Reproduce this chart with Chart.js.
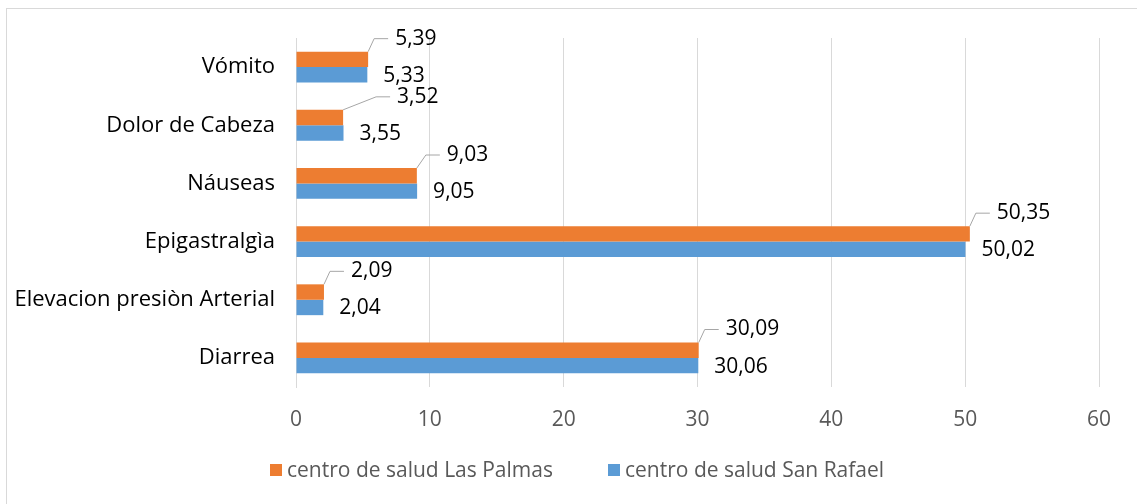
<!DOCTYPE html>
<html>
<head>
<meta charset="utf-8">
<script src="https://cdn.jsdelivr.net/npm/chart.js@4/dist/chart.umd.min.js"></script>
<style>
  html, body { margin: 0; padding: 0; background: #fff; }
  #wrap { position: relative; width: 1137px; height: 504px; }
  #frame { position: absolute; left: 6px; top: 8px; width: 1140px; height: 500px; border: 1px solid #d9d9d9; box-sizing: border-box; }
  canvas { position: absolute; left: 0; top: 0; }
</style>
</head>
<body>
<div id="wrap">
  <div id="frame"></div>
  <canvas id="chart" width="1137" height="504"></canvas>
</div>
<script>
const categories = ['Vómito', 'Dolor de Cabeza', 'Náuseas', 'Epigastralgìa', 'Elevacion presiòn Arterial', 'Diarrea'];
const lasPalmas = [5.39, 3.52, 9.03, 50.35, 2.09, 30.09];
const sanRafael = [5.33, 3.55, 9.05, 50.02, 2.04, 30.06];
const seriesNames = ['centro de salud Las Palmas', 'centro de salud San Rafael'];
const xTicks = [0, 10, 20, 30, 40, 50, 60];

const FONT = "'Open Sans', sans-serif";

function fmt(v) {
    return v.toFixed(2).replace('.', ',');
}

// value labels: orange ones sit above with a leader line, blue ones to the right
const valueLabels = {
    id: 'valueLabels',
    afterDatasetsDraw(chart) {
        const ctx = chart.ctx;
        const extraShift = [0, 27, 3, 0, 0, 0]; // one label was dragged further out
        ctx.save();
        ctx.font = '21px ' + FONT;
        ctx.fillStyle = '#000';
        ctx.textBaseline = 'middle';
        ctx.textAlign = 'left';

        chart.getDatasetMeta(0).data.forEach((bar, i) => {
            const top = bar.y - bar.height / 2;
            const ly = top - 13;
            const lx = bar.x + 27 + extraShift[i];
            ctx.strokeStyle = '#a6a6a6';
            ctx.lineWidth = 1;
            ctx.beginPath();
            ctx.moveTo(bar.x, top);
            ctx.lineTo(lx - 21, ly);
            ctx.lineTo(lx - 7, ly);
            ctx.stroke();
            ctx.fillText(fmt(lasPalmas[i]), lx, ly);
        });

        chart.getDatasetMeta(1).data.forEach((bar, i) => {
            ctx.fillText(fmt(sanRafael[i]), bar.x + 16, bar.y + 1);
        });
        ctx.restore();
    }
};

// legend drawn by hand so spacing can follow the original
const bottomLegend = {
    id: 'bottomLegend',
    afterDraw(chart) {
        const ctx = chart.ctx;
        const starts = [270, 608];
        const y = 470;
        ctx.save();
        ctx.font = '21px ' + FONT;
        ctx.textBaseline = 'middle';
        ctx.textAlign = 'left';
        chart.data.datasets.forEach((ds, i) => {
            ctx.fillStyle = ds.backgroundColor;
            ctx.fillRect(starts[i], y - 6, 12, 12);
            ctx.fillStyle = '#595959';
            ctx.fillText(ds.label, starts[i] + 17, y + 1);
        });
        ctx.restore();
    }
};

new Chart(document.getElementById('chart').getContext('2d'), {
    type: 'bar',
    data: {
        labels: categories,
        datasets: [{
            label: seriesNames[0],
            data: lasPalmas,
            backgroundColor: '#ED7D31'
        }, {
            label: seriesNames[1],
            data: sanRafael,
            backgroundColor: '#5B9BD5'
        }]
    },
    options: {
        indexAxis: 'y',
        responsive: false,
        animation: false,
        categoryPercentage: 0.53,
        barPercentage: 1,
        layout: {
            padding: { top: 38, right: 38, left: 0, bottom: 57 }
        },
        scales: {
            x: {
                min: 0,
                max: 60,
                afterBuildTicks(scale) {
                    scale.ticks = xTicks.map(v => ({ value: v }));
                },
                afterFit(scale) {
                    scale.height = 60;
                },
                grid: { color: '#d9d9d9', drawTicks: false },
                border: { display: false },
                ticks: {
                    color: '#595959',
                    padding: 20,
                    font: { family: FONT, size: 21 }
                }
            },
            y: {
                afterFit(scale) {
                    scale.width = 296;
                },
                grid: { display: false },
                border: { display: true, color: '#d9d9d9' },
                ticks: {
                    color: '#000',
                    padding: 13,
                    font: { family: FONT, size: 22 }
                }
            }
        },
        plugins: {
            legend: { display: false },
            tooltip: { enabled: false }
        }
    },
    plugins: [valueLabels, bottomLegend]
});
</script>
</body>
</html>
